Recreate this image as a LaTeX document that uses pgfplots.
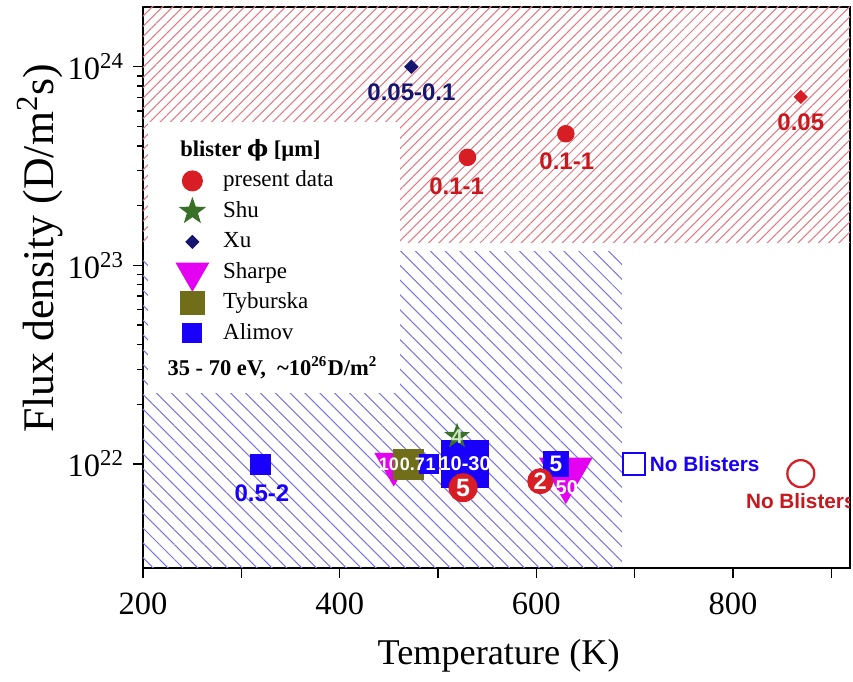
\documentclass[border=0pt]{standalone}
\usepackage{fontspec}
\setmainfont{Liberation Serif}
\newfontfamily\arialfont{Liberation Sans}
\newfontfamily\dvserif{DejaVu Serif}
\usepackage{pgfplots}
\pgfplotsset{compat=1.18}
\usetikzlibrary{patterns.meta}

% series colours
\definecolor{cPresent}{RGB}{214,30,36}
\definecolor{cShu}{RGB}{56,112,40}
\definecolor{cXu}{RGB}{22,22,112}
\definecolor{cSharpe}{RGB}{228,0,240}
\definecolor{cTyb}{RGB}{112,110,24}
\definecolor{cAlimov}{RGB}{24,0,250}
\definecolor{hatchRed}{RGB}{226,120,130}
\definecolor{hatchBlue}{RGB}{124,118,226}
\definecolor{lblRed}{RGB}{200,24,30}
\definecolor{starText}{RGB}{205,232,190}

% filled five-pointed star marker
\pgfdeclareplotmark{fstar}{%
  \pgfpathmoveto{\pgfpointpolar{90}{\pgfplotmarksize}}%
  \pgfpathlineto{\pgfpointpolar{126}{0.4\pgfplotmarksize}}%
  \pgfpathlineto{\pgfpointpolar{162}{\pgfplotmarksize}}%
  \pgfpathlineto{\pgfpointpolar{198}{0.4\pgfplotmarksize}}%
  \pgfpathlineto{\pgfpointpolar{234}{\pgfplotmarksize}}%
  \pgfpathlineto{\pgfpointpolar{270}{0.4\pgfplotmarksize}}%
  \pgfpathlineto{\pgfpointpolar{306}{\pgfplotmarksize}}%
  \pgfpathlineto{\pgfpointpolar{342}{0.4\pgfplotmarksize}}%
  \pgfpathlineto{\pgfpointpolar{18}{\pgfplotmarksize}}%
  \pgfpathlineto{\pgfpointpolar{54}{0.4\pgfplotmarksize}}%
  \pgfpathclose
  \pgfusepathqfillstroke
}

% legend images: one centred mark, fixed cell width
\pgfplotsset{
  dot legend/.style={legend image code/.code={%
      \draw[overlay,##1] plot coordinates {(0cm,0cm)};
      \path[draw=none,fill=none] (-0.25cm,0pt) -- (0.25cm,0pt);}},
}

\begin{document}
\begin{tikzpicture}[
  lbl/.style={font=\fontsize{9.6}{10}\selectfont\arialfont\bfseries, inner sep=0pt},
  wlbl/.style={font=\fontsize{8}{8}\selectfont\arialfont\bfseries, text=white, inner sep=0pt},
  slbl/.style={font=\fontsize{7.2}{7}\selectfont\arialfont\bfseries, text=white, inner sep=0pt},
]
\begin{axis}[
  scale only axis,
  width=282.8pt, height=224.4pt,
  xmin=200, xmax=919,
  ymode=log, ymin=3e21, ymax=2e24,
  clip marker paths=true,
  xtick={200,300,...,900},
  xticklabels={200,{},400,{},600,{},800,{}},
  ytick={1e22,1e23,1e24},
  yticklabels={{10\textsuperscript{22}},{10\textsuperscript{23}},{10\textsuperscript{24}}},
  tick pos=left, tick align=outside,
  major tick length=4pt, minor tick length=2.2pt,
  tick style={black, line width=0.6pt},
  axis line style={line width=0.8pt},
  ticklabel style={font=\fontsize{13}{13}\selectfont},
  xticklabel style={yshift=-2.5pt},
  xlabel={Temperature (K)},
  xlabel style={font=\fontsize{14.5}{15}\selectfont, at={(axis description cs:0.503,-0.157)}, anchor=center},
  ylabel={Flux density (D/m\textsuperscript{2}s)},
  ylabel style={font=\fontsize{17.5}{17.5}\selectfont, at={(axis description cs:-0.146,0.570)}, anchor=center},
  legend style={at={(axis description cs:0.044,0.718)}, anchor=north west,
    draw=none, fill=none, inner sep=0pt,
    font=\fontsize{9.2}{11}\selectfont,
    nodes={inner sep=1.2pt, text height=7.2pt, text depth=2.6pt},
    column sep=4pt},
  legend cell align=left,
]

% hatched regimes
\addplot[draw=none, pattern={Lines[angle=45,distance=2.9pt,line width=0.42pt]}, pattern color=hatchRed, forget plot]
  coordinates {(200,1.3e23) (919,1.3e23) (919,2e24) (200,2e24) (200,1.3e23)};
\addplot[draw=none, pattern={Lines[angle=-45,distance=4.2pt,line width=0.42pt]}, pattern color=hatchBlue, forget plot]
  coordinates {(200,3e21) (687,3e21) (687,1.17e23) (200,1.17e23) (200,3e21)};

% legend panel background
\fill[white] (rel axis cs:0.007,0.312) rectangle (rel axis cs:0.364,0.795);

% high-flux points
\addplot[only marks, mark=*, color=cPresent, mark size=3.3pt, forget plot]
  coordinates {(530,3.5e23) (630,4.6e23)};
\addplot[only marks, mark=square*, mark options={rotate=45}, color=cPresent, mark size=1.8pt, forget plot]
  coordinates {(869,7.05e23)};
\addplot[only marks, mark=square*, mark options={rotate=45}, color=cXu, mark size=1.85pt, forget plot]
  coordinates {(473,1e24)};

% low-flux points
\addplot[only marks, mark=square*, color=cAlimov, mark size=4pt, forget plot]
  coordinates {(320,1e22)};
\addplot[only marks, mark=triangle*, mark options={rotate=180}, color=cSharpe, mark size=8.6pt, forget plot]
  coordinates {(455,1e22)};
\addplot[only marks, mark=square*, color=cTyb, mark size=6pt, forget plot]
  coordinates {(469.6,1e22)};
\addplot[only marks, mark=square*, color=cAlimov, mark size=3.8pt, forget plot]
  coordinates {(491,1e22)};
\addplot[only marks, mark=square*, color=cAlimov, mark size=9.5pt, forget plot]
  coordinates {(527.6,1e22)};
\addplot[only marks, mark=fstar, color=cShu, mark size=4.8pt, forget plot]
  coordinates {(519.4,1.38e22)};
\addplot[only marks, mark=*, color=cPresent, mark size=5.6pt, forget plot]
  coordinates {(525.5,7.6e21)};
\addplot[only marks, mark=triangle*, mark options={rotate=180}, color=cSharpe, mark size=12pt, forget plot]
  coordinates {(630,9e21)};
\addplot[only marks, mark=square*, color=cAlimov, mark size=4.9pt, forget plot]
  coordinates {(620,1e22)};
\addplot[only marks, mark=*, color=cPresent, mark size=5pt, forget plot]
  coordinates {(604,8.2e21)};

% no blistering observed
\addplot[only marks, mark=square, color=cAlimov, mark size=4.4pt, mark options={line width=0.9pt}, forget plot]
  coordinates {(699.5,1e22)};
\addplot[only marks, mark=o, color=cPresent, mark size=5.4pt, mark options={line width=0.9pt}, forget plot]
  coordinates {(869,8.95e21)};

% blister diameters
\node[lbl, text=cXu] at (axis cs:473,7.4e23) {0.05-0.1};
\node[lbl, text=lblRed] at (axis cs:519,2.5e23) {0.1-1};
\node[lbl, text=lblRed] at (axis cs:631,3.35e23) {0.1-1};
\node[lbl, text=lblRed] at (axis cs:869,5.27e23) {0.05};
\node[lbl, text=cAlimov] at (axis cs:321,7.1e21) {0.5-2};
\node[slbl] at (axis cs:450,1e22) {10};
\node[slbl] at (axis cs:474,1e22) {0.7};
\node[slbl] at (axis cs:492.5,1e22) {1};
\node[wlbl] at (axis cs:527.6,1e22) {10-30};
\node[wlbl, text=starText] at (axis cs:519.4,1.38e22) {4};
\node[wlbl, font=\fontsize{10}{10}\selectfont\arialfont\bfseries] at (axis cs:525.5,7.6e21) {5};
\node[wlbl, font=\fontsize{9}{9}\selectfont\arialfont\bfseries] at (axis cs:620,1e22) {5};
\node[wlbl] at (axis cs:631,7.6e21) {50};
\node[wlbl, font=\fontsize{9.5}{10}\selectfont\arialfont\bfseries] at (axis cs:604,8.2e21) {2};
\node[lbl, text=cAlimov, anchor=west, font=\fontsize{8.3}{9}\selectfont\arialfont\bfseries] at (axis cs:715,1e22) {No Blisters};
\node[lbl, text=lblRed, font=\fontsize{8.3}{9}\selectfont\arialfont\bfseries] at (axis cs:869,6.5e21) {No Blisters};

% legend
\node[anchor=west, inner sep=0pt, font=\fontsize{9}{10}\selectfont\bfseries] at (rel axis cs:0.052,0.745) {blister {\dvserif ϕ} [µm]};
\addlegendimage{dot legend, mark=*, color=cPresent, mark size=4pt}
\addlegendentry{present data}
\addlegendimage{dot legend, mark=fstar, color=cShu, mark size=5.2pt}
\addlegendentry{Shu}
\addlegendimage{dot legend, mark=square*, mark options={rotate=45}, color=cXu, mark size=1.8pt}
\addlegendentry{Xu}
\addlegendimage{dot legend, mark=triangle*, mark options={rotate=180}, color=cSharpe, mark size=7.4pt}
\addlegendentry{Sharpe}
\addlegendimage{dot legend, mark=square*, color=cTyb, mark size=4.7pt}
\addlegendentry{Tyburska}
\addlegendimage{dot legend, mark=square*, color=cAlimov, mark size=3.8pt}
\addlegendentry{Alimov}
\node[anchor=west, inner sep=0pt, font=\fontsize{9}{10}\selectfont\bfseries] at (rel axis cs:0.034,0.3565) {35 - 70 eV,\ \ \textasciitilde10\textsuperscript{26}D/m\textsuperscript{2}};
\end{axis}
\path ([xshift=-57.2pt,yshift=-45.6pt]current axis.south west) rectangle ([xshift=1.2pt,yshift=2.8pt]current axis.north east);
\end{tikzpicture}
\end{document}
